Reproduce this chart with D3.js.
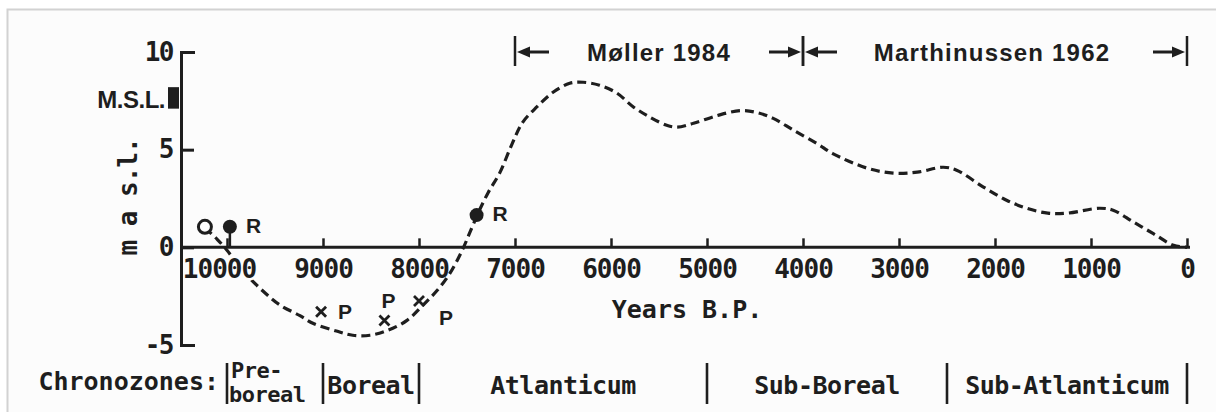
<!DOCTYPE html>
<html>
<head>
<meta charset="utf-8">
<script src="https://cdn.jsdelivr.net/npm/d3@7"></script>
<style>
  body { margin: 0; background: #fff; }
  .mono { font-family: "DejaVu Sans Mono", monospace; font-weight: bold; }
  .sans { font-family: "Liberation Sans", Arial, sans-serif; font-weight: bold; }
</style>
</head>
<body>
<script>
// sea level curve, years B.P. and metres above sea level
var curveYears = [10230, 10100, 10000, 9870, 9760, 9600, 9450, 9240, 9100, 8850, 8690, 8510,
  8330, 8125, 7960, 7810, 7680, 7550, 7450, 7380, 7280, 7160, 7030, 6920, 6770, 6600, 6430,
  6290, 6120, 5940, 5770, 5590, 5420, 5310, 5140, 4890, 4650, 4480, 4310, 4100, 3850, 3690,
  3330, 3060, 2810, 2540, 2400, 2125, 1875, 1670, 1450, 1250, 910, 770, 560, 350, 140, 0];
var curveLevels = [1.0, 0.4, -0.15, -1.0, -1.6, -2.35, -2.95, -3.5, -3.9, -4.3, -4.5, -4.5,
  -4.26, -3.74, -2.97, -2.2, -1.35, -0.15, 1.0, 1.8, 2.8, 3.8, 5.3, 6.4, 7.2, 7.95, 8.4,
  8.45, 8.3, 7.9, 7.2, 6.65, 6.25, 6.15, 6.35, 6.75, 7.0, 6.9, 6.6, 6.0, 5.3, 4.8,
  4.05, 3.8, 3.85, 4.1, 3.95, 3.1, 2.4, 2.0, 1.75, 1.75, 2.0, 1.9, 1.3, 0.7, 0.1, 0];

// dated samples
var openYears = [10230];
var openLevels = [1.05];
var rYears = [9970, 7400];
var rLevels = [1.05, 1.65];
var pYears = [9020, 8360, 8000];
var pLevels = [-3.3, -3.75, -2.75];
var pLabelSide = ['right', 'above', 'belowright'];

var mslRange = [7.1, 8.2];

var xTicks = [10000, 9000, 8000, 7000, 6000, 5000, 4000, 3000, 2000, 1000, 0];
var yTicks = [10, 5, 0, -5];

var studies = ['Møller 1984', 'Marthinussen 1962'];
var studyFrom = [7000, 4000];
var studyTo = [4000, 0];

var zoneNames = [['Pre-', 'boreal'], ['Boreal'], ['Atlanticum'], ['Sub-Boreal'], ['Sub-Atlanticum']];
var zoneBounds = [10000, 9000, 8000, 5000, 2500, 0];

var ink = '#1e1e1e';
var paper = '#fcfcfc';

var svg = d3.select('body').append('svg')
  .attr('width', 1216)
  .attr('height', 412);

svg.append('rect')
  .attr('x', 7.5).attr('y', 9.5)
  .attr('width', 1220).attr('height', 410)
  .attr('fill', paper)
  .attr('stroke', '#d2d2d2')
  .attr('stroke-width', 2);

var x = d3.scaleLinear().domain([10000, 0]).range([227, 1187]);
var y = d3.scaleLinear().domain([10, -5]).range([52, 345]);

// curve
var pts = curveYears.map(function(d, i) { return [d, curveLevels[i]]; });
var line = d3.line()
  .x(function(d) { return x(d[0]); })
  .y(function(d) { return y(d[1]); })
  .curve(d3.curveCatmullRom.alpha(0.5));

svg.append('path')
  .datum(pts)
  .attr('d', line)
  .attr('fill', 'none')
  .attr('stroke', ink)
  .attr('stroke-width', 3.2)
  .attr('stroke-dasharray', '9,5');

// x axis
svg.append('line')
  .attr('x1', 181).attr('x2', 1190)
  .attr('y1', y(0)).attr('y2', y(0))
  .attr('stroke', ink).attr('stroke-width', 3);

var xAxis = svg.append('g')
  .attr('transform', 'translate(0,' + y(0) + ')')
  .call(d3.axisBottom(x).tickValues(xTicks).tickFormat(d3.format('d'))
    .tickSizeInner(-9).tickSizeOuter(0).tickPadding(12));
xAxis.select('.domain').remove();
xAxis.selectAll('line').attr('stroke', ink).attr('stroke-width', 2.5);
xAxis.selectAll('text')
  .attr('class', 'mono')
  .attr('fill', ink)
  .style('font-size', '26px')
  .style('letter-spacing', '-1px');
// the curve passes behind the first label
xAxis.selectAll('text')
  .filter(function(d) { return d === 10000; })
  .attr('dx', '-8')
  .attr('stroke', paper)
  .attr('stroke-width', 5)
  .style('paint-order', 'stroke');

// y axis
var yAxis = svg.append('g')
  .attr('transform', 'translate(181,0)')
  .call(d3.axisLeft(y).tickValues(yTicks)
    .tickFormat(function(d) { return d < 0 ? '-' + Math.abs(d) : String(d); })
    .tickSizeInner(-13).tickSizeOuter(-14).tickPadding(8));
yAxis.select('.domain').attr('stroke', ink).attr('stroke-width', 3).attr('fill', 'none');
yAxis.selectAll('line').attr('stroke', ink).attr('stroke-width', 3);
yAxis.selectAll('text')
  .attr('class', 'mono')
  .attr('fill', ink)
  .style('font-size', '26px')
  .style('letter-spacing', '-1.5px');

svg.append('text')
  .attr('class', 'mono')
  .attr('transform', 'translate(137,197) rotate(-90)')
  .attr('text-anchor', 'middle')
  .attr('fill', ink)
  .style('font-size', '26px')
  .style('letter-spacing', '-1px')
  .text('m a s.l.');

// M.S.L. marker
svg.append('rect')
  .attr('x', 168).attr('width', 11)
  .attr('y', y(mslRange[1]))
  .attr('height', y(mslRange[0]) - y(mslRange[1]))
  .attr('fill', ink);
svg.append('text')
  .attr('class', 'sans')
  .attr('x', 165).attr('y', 108)
  .attr('text-anchor', 'end')
  .attr('fill', ink)
  .style('font-size', '24px')
  .style('letter-spacing', '-0.5px')
  .text('M.S.L.');

svg.append('text')
  .attr('class', 'mono')
  .attr('x', 687).attr('y', 318)
  .attr('text-anchor', 'middle')
  .attr('fill', ink)
  .style('font-size', '25px')
  .text('Years B.P.');

// open circle
openYears.forEach(function(yr, i) {
  svg.append('circle')
    .attr('cx', x(yr)).attr('cy', y(openLevels[i]))
    .attr('r', 6.5)
    .attr('fill', paper)
    .attr('stroke', ink)
    .attr('stroke-width', 3);
});

// radiocarbon dots
rYears.forEach(function(yr, i) {
  var cx = x(yr), cy = y(rLevels[i]);
  if (i === 0) {
    svg.append('line')
      .attr('x1', cx).attr('x2', cx)
      .attr('y1', cy).attr('y2', y(0))
      .attr('stroke', ink).attr('stroke-width', 2.5);
  }
  svg.append('circle')
    .attr('cx', cx).attr('cy', cy)
    .attr('r', 7)
    .attr('fill', ink);
  svg.append('text')
    .attr('class', 'sans')
    .attr('x', cx + 16).attr('y', cy + 6)
    .attr('fill', ink)
    .style('font-size', '21px')
    .text('R');
});

// peat samples
pYears.forEach(function(yr, i) {
  var cx = x(yr), cy = y(pLevels[i]);
  var s = 5;
  svg.append('path')
    .attr('d', 'M' + (cx - s) + ',' + (cy - s) + 'L' + (cx + s) + ',' + (cy + s)
      + 'M' + (cx - s) + ',' + (cy + s) + 'L' + (cx + s) + ',' + (cy - s))
    .attr('stroke', ink)
    .attr('stroke-width', 2.8);
  var lx = cx + 17, ly = cy + 7, anchor = 'start';
  if (pLabelSide[i] === 'above') { lx = cx + 4; ly = cy - 13; anchor = 'middle'; }
  if (pLabelSide[i] === 'belowright') { lx = cx + 20; ly = cy + 24; }
  svg.append('text')
    .attr('class', 'sans')
    .attr('x', lx).attr('y', ly)
    .attr('text-anchor', anchor)
    .attr('fill', ink)
    .style('font-size', '21px')
    .text('P');
});

// study ranges at top
function arrow(tipX, dir) {
  // dir = -1 points left, 1 points right
  var tail = tipX - dir * 32;
  svg.append('line')
    .attr('x1', tail).attr('x2', tipX - dir * 8)
    .attr('y1', 52).attr('y2', 52)
    .attr('stroke', ink).attr('stroke-width', 3);
  svg.append('path')
    .attr('d', 'M' + tipX + ',52L' + (tipX - dir * 13) + ',46.5L' + (tipX - dir * 13) + ',57.5Z')
    .attr('fill', ink);
}

studies.forEach(function(name, i) {
  var x0 = x(studyFrom[i]), x1 = x(studyTo[i]);
  [x0, x1].forEach(function(bx) {
    svg.append('line')
      .attr('x1', bx).attr('x2', bx)
      .attr('y1', 36).attr('y2', 66)
      .attr('stroke', ink).attr('stroke-width', 2.5);
  });
  arrow(x0 + 2, -1);
  arrow(x1 - 2, 1);
  svg.append('text')
    .attr('class', 'sans')
    .attr('x', i === 0 ? 659 : 992).attr('y', 61)
    .attr('text-anchor', 'middle')
    .attr('fill', ink)
    .style('font-size', '24px')
    .style('letter-spacing', '1.2px')
    .text(name);
});

// chronozones
svg.append('text')
  .attr('class', 'mono')
  .attr('x', 219).attr('y', 390)
  .attr('text-anchor', 'end')
  .attr('fill', ink)
  .style('font-size', '25px')
  .text('Chronozones:');

svg.selectAll('.zonebar')
  .data(zoneBounds)
  .enter()
  .append('line')
  .attr('class', 'zonebar')
  .attr('x1', function(d) { return x(d); })
  .attr('x2', function(d) { return x(d); })
  .attr('y1', 363).attr('y2', 404)
  .attr('stroke', ink)
  .attr('stroke-width', 2.6);

zoneNames.forEach(function(parts, i) {
  var a = x(zoneBounds[i]), b = x(zoneBounds[i + 1]);
  if (parts.length === 2) {
    var t = svg.append('text')
      .attr('class', 'mono')
      .attr('fill', ink)
      .style('font-size', '22px')
      .style('letter-spacing', '-0.5px');
    t.append('tspan').attr('x', a + 4).attr('y', 378).text(parts[0]);
    t.append('tspan').attr('x', a + 2).attr('y', 402).text(parts[1]);
  } else {
    svg.append('text')
      .attr('class', 'mono')
      .attr('x', (a + b) / 2).attr('y', 394)
      .attr('text-anchor', 'middle')
      .attr('fill', ink)
      .style('font-size', '25px')
      .style('letter-spacing', '-0.5px')
      .text(parts[0]);
  }
});
</script>
</body>
</html>
